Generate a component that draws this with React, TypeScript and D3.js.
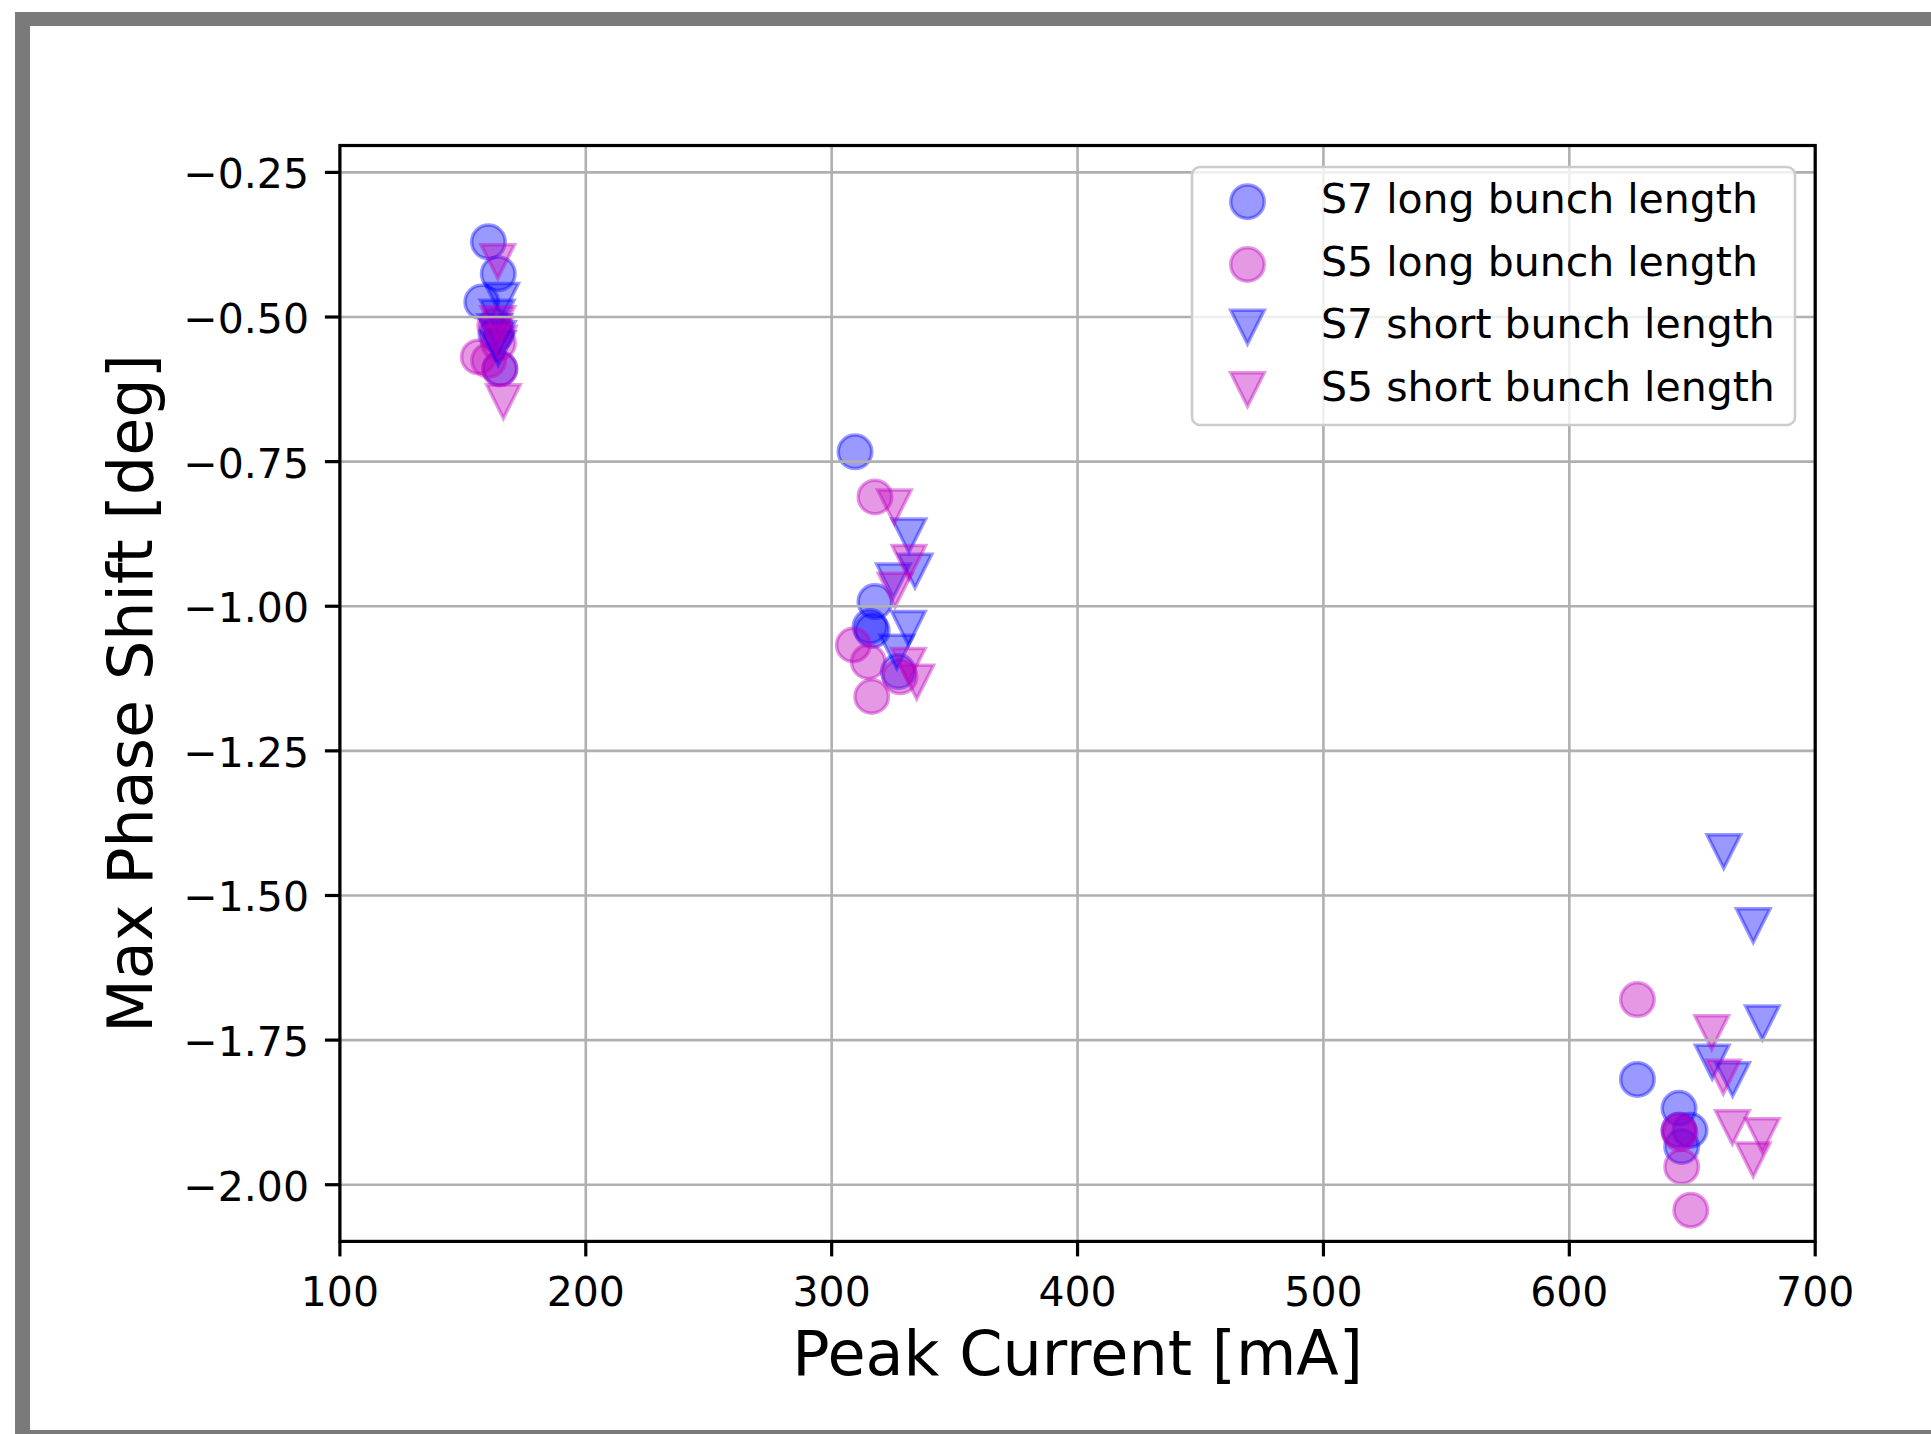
import React from "react";
import * as d3 from "d3";

// Peak current [mA] vs. max phase shift [deg], one array per series
const s7LongX = [160.4, 164.4, 157.7, 163.5, 165.1, 309.5, 317.6, 315.6, 316.5, 327.1, 627.7, 644.6, 649.1, 644.6, 645.7];
const s7LongY = [-0.370, -0.425, -0.474, -0.530, -0.589, -0.733, -0.992, -1.035, -1.042, -1.113, -1.818, -1.868, -1.906, -1.906, -1.934];

const s5LongX = [156.3, 160.5, 164.5, 163.0, 165.0, 317.6, 308.8, 314.9, 327.8, 316.3, 627.7, 644.6, 645.7, 649.4, 645.0];
const s5LongY = [-0.569, -0.575, -0.545, -0.515, -0.590, -0.811, -1.067, -1.096, -1.122, -1.156, -1.680, -1.906, -1.969, -2.044, -1.912];

const s7ShortX = [165.8, 164.0, 164.4, 164.4, 163.0, 331.4, 333.9, 325.1, 331.2, 326.5, 662.8, 674.8, 678.5, 658.1, 666.4];
const s7ShortY = [-0.471, -0.500, -0.537, -0.554, -0.525, -0.878, -0.939, -0.956, -1.038, -1.079, -1.424, -1.552, -1.720, -1.788, -1.818];

const s5ShortX = [164.2, 164.2, 163.5, 164.8, 166.5, 325.5, 331.4, 325.8, 331.2, 334.6, 657.9, 662.6, 666.3, 678.5, 674.8];
const s5ShortY = [-0.404, -0.511, -0.530, -0.545, -0.646, -0.828, -0.924, -0.972, -1.102, -1.131, -1.737, -1.814, -1.901, -1.915, -1.957];

const xTicks = [100, 200, 300, 400, 500, 600, 700];
const yTicks = [-0.25, -0.5, -0.75, -1.0, -1.25, -1.5, -1.75, -2.0];

const seriesNames = ["S7 long bunch length", "S5 long bunch length", "S7 short bunch length", "S5 short bunch length"];
const seriesColors = ["#0000ff", "#bf00bf", "#0000ff", "#bf00bf"];
const seriesShapes = ["circle", "circle", "tri", "tri"];

const W = 1931;
const H = 1434;
const FONT = "'DejaVu Sans', sans-serif";

const plot = { left: 339.9, right: 1815.2, top: 145.5, bottom: 1241.4 };

const x = d3.scaleLinear().domain([100, 700]).range([plot.left, plot.right]);
const y = d3.scaleLinear().domain([-2.098, -0.2035]).range([plot.bottom, plot.top]);

const R = 16.75; // marker half-size
const EDGE = 3.5;

function trianglePath(cx: number, cy: number, h: number) {
  return `M${cx - h},${cy - h}L${cx + h},${cy - h}L${cx},${cy + h}Z`;
}

function Marker({ shape, cx, cy, color }: { shape: string; cx: number; cy: number; color: string }) {
  const common = {
    fill: color,
    fillOpacity: 0.4,
    stroke: color,
    strokeOpacity: 0.4,
    strokeWidth: EDGE,
    strokeLinejoin: "miter" as const,
  };
  if (shape === "circle") return <circle cx={cx} cy={cy} r={R} {...common} />;
  return <path d={trianglePath(cx, cy, R)} {...common} />;
}

const fmt = (v: number) => d3.format(".2f")(v).replace("-", "\u2212");

export default function App() {
  const series = [
    [s7LongX, s7LongY],
    [s5LongX, s5LongY],
    [s7ShortX, s7ShortY],
    [s5ShortX, s5ShortY],
  ];
  const legendRows = [201.7, 264.5, 327, 389.5];

  return (
    <svg
      width={W}
      height={H}
      viewBox={`0 0 ${W} ${H}`}
      style={{ position: "absolute", left: 0, top: 0, display: "block" }}
      fontFamily={FONT}
    >
      {/* page frame */}
      <rect x={0} y={0} width={W} height={H} fill="#ffffff" />
      <rect x={15} y={12} width={W} height={H} fill="#7a7a7a" />
      <rect x={30} y={26} width={W} height={1430 - 26} fill="#ffffff" />

      {/* markers */}
      {series.map(([xs, ys], si) => (
        <g key={si}>
          {xs.map((xv, i) => (
            <Marker key={i} shape={seriesShapes[si]} cx={x(xv)} cy={y(ys[i])} color={seriesColors[si]} />
          ))}
        </g>
      ))}

      {/* grid */}
      <g stroke="#b0b0b0" strokeWidth={2.6}>
        {xTicks.map((t) => (
          <line key={t} x1={x(t)} x2={x(t)} y1={plot.top} y2={plot.bottom} />
        ))}
        {yTicks.map((t) => (
          <line key={t} x1={plot.left} x2={plot.right} y1={y(t)} y2={y(t)} />
        ))}
      </g>

      {/* spines */}
      <rect
        x={plot.left}
        y={plot.top}
        width={plot.right - plot.left}
        height={plot.bottom - plot.top}
        fill="none"
        stroke="#000"
        strokeWidth={3.2}
        strokeLinejoin="miter"
      />

      {/* x axis ticks */}
      <g>
        {xTicks.map((t) => (
          <g key={t}>
            <line x1={x(t)} x2={x(t)} y1={plot.bottom} y2={plot.bottom + 15} stroke="#000" strokeWidth={3.2} />
            <text x={x(t)} y={1305.5} textAnchor="middle" fontSize={41} fill="#000">
              {t}
            </text>
          </g>
        ))}
      </g>

      {/* y axis ticks */}
      <g>
        {yTicks.map((t) => (
          <g key={t}>
            <line x1={plot.left - 15} x2={plot.left} y1={y(t)} y2={y(t)} stroke="#000" strokeWidth={3.2} />
            <text x={309} y={y(t) + 16} textAnchor="end" fontSize={41} fill="#000">
              {fmt(t)}
            </text>
          </g>
        ))}
      </g>

      {/* axis labels */}
      <text x={(plot.left + plot.right) / 2} y={1375} textAnchor="middle" fontSize={62} fill="#000">
        Peak Current [mA]
      </text>
      <text
        transform={`translate(152, ${(plot.top + plot.bottom) / 2}) rotate(-90)`}
        textAnchor="middle"
        fontSize={62}
        fill="#000"
      >
        Max Phase Shift [deg]
      </text>

      {/* legend */}
      <g>
        <rect
          x={1192}
          y={167}
          width={603}
          height={258}
          rx={8}
          ry={8}
          fill="#ffffff"
          fillOpacity={0.8}
          stroke="#cccccc"
          strokeWidth={2.6}
        />
        {seriesNames.map((name, i) => (
          <g key={name}>
            <Marker shape={seriesShapes[i]} cx={1247.5} cy={legendRows[i]} color={seriesColors[i]} />
            <text x={1321} y={legendRows[i] + 11} fontSize={41} fill="#000">
              {name}
            </text>
          </g>
        ))}
      </g>
    </svg>
  );
}
